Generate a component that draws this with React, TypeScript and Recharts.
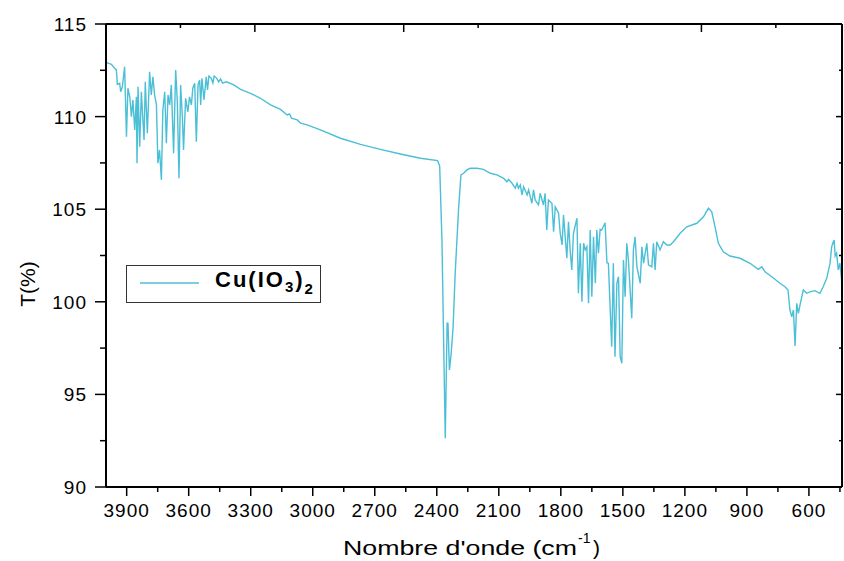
import { Legend, Line, LineChart, ReferenceLine, XAxis, YAxis } from "recharts";

// IR spectrum of Cu(IO3)2
const wavenumbers = [
  4000, 3974, 3958, 3950, 3945, 3934, 3929, 3921, 3910, 3901,
  3894, 3885, 3877, 3870, 3861, 3853, 3850, 3845, 3837, 3829,
  3821, 3816, 3810, 3800, 3789, 3781, 3773, 3765, 3756, 3749,
  3741, 3732, 3725, 3716, 3708, 3700, 3692, 3684, 3673, 3663,
  3655, 3647, 3639, 3631, 3625, 3615, 3604, 3596, 3587, 3580,
  3571, 3563, 3555, 3547, 3542, 3536, 3526, 3515, 3509, 3502,
  3491, 3483, 3477, 3465, 3455, 3446, 3436, 3417, 3382, 3349,
  3301, 3253, 3204, 3156, 3124, 3112, 3103, 3075, 3059, 3027,
  2963, 2866, 2769, 2673, 2576, 2479, 2396, 2386, 2375, 2367,
  2359, 2350, 2346, 2339, 2331, 2321, 2311, 2294, 2283, 2270,
  2254, 2238, 2206, 2174, 2141, 2109, 2077, 2061, 2053, 2036,
  2020, 2012, 2005, 1996, 1988, 1980, 1963, 1956, 1940, 1932,
  1924, 1908, 1900, 1884, 1876, 1868, 1860, 1843, 1835, 1827,
  1811, 1803, 1794, 1787, 1771, 1763, 1755, 1747, 1739, 1722,
  1715, 1706, 1698, 1690, 1682, 1674, 1666, 1658, 1650, 1642,
  1633, 1626, 1618, 1610, 1602, 1586, 1577, 1570, 1554, 1546,
  1538, 1529, 1521, 1513, 1505, 1497, 1489, 1481, 1473, 1457,
  1449, 1441, 1432, 1416, 1408, 1400, 1384, 1376, 1360, 1352,
  1344, 1336, 1320, 1304, 1287, 1271, 1255, 1223, 1191, 1142,
  1110, 1086, 1070, 1054, 1038, 1014, 982, 933, 885, 845,
  828, 812, 780, 740, 716, 701, 692, 683, 675, 667,
  659, 651, 643, 627, 611, 595, 571, 547, 531, 514,
  498, 490, 482, 478, 473, 466, 458, 450, 442, 440,
];

const transmittance = [
  112.93, 112.82, 112.61, 112.52, 111.74, 111.8, 111.34, 111.6, 112.69, 108.91,
  111.53, 111.07, 110.0, 110.9, 109.28, 111.07, 107.48, 111.61, 108.37, 111.34,
  109.72, 108.74, 111.88, 109.1, 112.42, 111.17, 112.15, 111.17, 110.63, 107.48,
  108.2, 106.58, 110.36, 111.34, 108.56, 111.17, 110.63, 111.71, 108.02, 112.52,
  110.8, 106.67, 111.71, 110.09, 108.2, 110.99, 110.26, 111.07, 110.63, 111.53,
  111.8, 108.64, 111.71, 111.98, 110.63, 112.07, 110.9, 112.15, 111.44, 112.19,
  112.07, 111.81, 112.19, 112.08, 111.87, 112.03, 111.81, 111.88, 111.71, 111.47,
  111.26, 110.99, 110.63, 110.39, 110.09, 110.14, 109.92, 109.82, 109.65, 109.55,
  109.28, 108.83, 108.5, 108.23, 107.98, 107.75, 107.62, 107.33, 103.34, 97.94,
  92.63, 98.84, 98.84, 96.32, 97.13, 98.65, 101.54, 105.13, 106.85, 106.94,
  107.12, 107.21, 107.21, 107.15, 106.94, 106.85, 106.67, 106.48, 106.61, 106.4,
  106.13, 106.4, 106.13, 106.31, 105.77, 106.21, 105.77, 106.04, 105.32, 106.04,
  105.5, 105.23, 105.86, 105.23, 105.86, 103.88, 105.5, 105.32, 103.78, 105.13,
  104.78, 103.7, 103.07, 104.69, 102.35, 104.32, 102.8, 101.72, 103.7, 104.51,
  100.46, 103.16, 100.0, 103.16, 102.8, 102.97, 99.92, 103.88, 100.27, 103.51,
  101.0, 103.88, 102.62, 103.91, 103.88, 104.27, 102.11, 102.08, 97.57, 102.08,
  97.03, 101.0, 101.35, 97.03, 96.68, 102.26, 100.27, 103.16, 102.26, 99.11,
  102.8, 103.51, 101.89, 101.0, 102.97, 102.08, 103.16, 101.99, 101.89, 103.16,
  101.72, 103.24, 102.8, 103.24, 103.07, 103.07, 103.24, 103.7, 104.05, 104.24,
  104.59, 105.05, 104.86, 104.05, 103.16, 102.7, 102.47, 102.35, 102.08, 101.75,
  101.89, 101.62, 101.35, 101.0, 100.81, 100.64, 99.56, 99.19, 99.56, 97.61,
  99.92, 99.38, 99.83, 100.64, 100.46, 100.54, 100.6, 100.46, 100.81, 101.27,
  102.08, 102.97, 103.24, 103.34, 102.47, 102.62, 101.72, 102.08, 101.18, 100.1,
];

const xTicks = [
  3900, 3750, 3600, 3450, 3300, 3150, 3000, 2850, 2700, 2550, 2400, 2250,
  2100, 1950, 1800, 1650, 1500, 1350, 1200, 1050, 900, 750, 600, 450,
];
const xLabels = [3900, 3600, 3300, 3000, 2700, 2400, 2100, 1800, 1500, 1200, 900, 600];
const yTicks = [90, 92.5, 95, 97.5, 100, 102.5, 105, 107.5, 110, 112.5, 115];
const yLabels = [90, 95, 100, 105, 110, 115];
// the top frame edge has its own unlabelled tick spacing
const topTicks = [4000, 3640, 3280, 2920, 2560, 2200, 1840, 1480, 1120, 760];
const topMajors = [4000, 3280, 2560, 1840, 1120];

const X_DOMAIN = [440, 4000];
const Y_DOMAIN = [90, 115];

const FONT = "'Liberation Sans', Arial, Helvetica, sans-serif";
const LINE_COLOR = "#4bbfd6";
const CHART_W = 844;
const CHART_H = 561;
const MARGIN = { top: 20, right: 1, bottom: 4, left: 6 };
const TOP_AXIS_H = 4;
const RIGHT_AXIS_W = 1;
const LEFT_AXIS_W = 100;
const BOTTOM_AXIS_H = 70;
const PLOT_W = CHART_W - MARGIN.left - MARGIN.right - LEFT_AXIS_W - RIGHT_AXIS_W;
const PLOT_H = CHART_H - MARGIN.top - MARGIN.bottom - TOP_AXIS_H - BOTTOM_AXIS_H;
// data units per pixel, used to size the inward frame ticks
const WN_PER_PX = (X_DOMAIN[1] - X_DOMAIN[0]) / PLOT_W;
const T_PER_PX = (Y_DOMAIN[1] - Y_DOMAIN[0]) / PLOT_H;

const data = wavenumbers.map((wn, i) => ({ wn, t: transmittance[i] }));

const BottomTick = ({ x, y, payload }: any) => {
  const major = xLabels.includes(payload.value);
  return (
    <g>
      <line x1={x} y1={y} x2={x} y2={y + (major ? 9 : 5)} stroke="#000" strokeWidth={1.5} />
      {major && (
        <text x={x} y={y + 30} textAnchor="middle" fontSize={19} letterSpacing={1}
          fontFamily={FONT} fill="#000">
          {payload.value}
        </text>
      )}
    </g>
  );
};

const LeftTick = ({ x, y, payload }: any) => {
  const major = yLabels.includes(payload.value);
  return (
    <g>
      <line x1={x} y1={y} x2={x - (major ? 11 : 6)} y2={y} stroke="#000" strokeWidth={1.5} />
      {major && (
        <text x={x - 19} y={y + 7} textAnchor="end" fontSize={19} letterSpacing={1}
          fontFamily={FONT} fill="#000">
          {payload.value}
        </text>
      )}
    </g>
  );
};

const XTitle = () => (
  <g fontFamily={FONT} fill="#000">
    <text x={343} y={555} fontSize={21} textLength={234} lengthAdjust="spacingAndGlyphs">
      Nombre d'onde (cm
    </text>
    <text x={578} y={543} fontSize={14}>-1</text>
    <text x={593} y={555} fontSize={21}>)</text>
  </g>
);

const YTitle = () => (
  <text x={0} y={0} transform="translate(35,284) rotate(-90)" textAnchor="middle"
    fontSize={21} fontFamily={FONT} fill="#000">
    T(%)
  </text>
);

const LegendBox = () => (
  <div style={{
    width: 195, height: 38, border: "1px solid #333", boxSizing: "border-box",
    background: "#fff", display: "flex", alignItems: "center", fontFamily: FONT,
  }}>
    <svg width={88} height={36}>
      <line x1={13} y1={17} x2={72} y2={17} stroke={LINE_COLOR} strokeWidth={1.5} />
    </svg>
    <span style={{
      fontSize: 22, fontWeight: "bold", color: "#000", lineHeight: "22px", letterSpacing: 2,
    }}>
      Cu(IO<sub style={{ fontSize: 15, verticalAlign: -5 }}>3</sub>)
      <sub style={{ fontSize: 15, verticalAlign: -7 }}>2</sub>
    </span>
  </div>
);

export default function App() {
  return (
    <div style={{ position: "absolute", left: 0, top: 0, background: "#fff" }}>
      <LineChart width={CHART_W} height={CHART_H} data={data} margin={MARGIN}>
        <XAxis xAxisId="bottom" dataKey="wn" type="number" domain={X_DOMAIN} reversed
          allowDataOverflow ticks={xTicks} interval={0} height={BOTTOM_AXIS_H}
          tickSize={0} tickMargin={0} tick={<BottomTick />} tickLine={false}
          axisLine={{ stroke: "#000", strokeWidth: 2 }} label={<XTitle />} />
        <XAxis xAxisId="top" orientation="top" height={TOP_AXIS_H} tick={false}
          tickLine={false} axisLine={{ stroke: "#000", strokeWidth: 2 }} />
        <YAxis yAxisId="left" type="number" domain={Y_DOMAIN} allowDataOverflow ticks={yTicks}
          interval={0} width={LEFT_AXIS_W} tickSize={0} tickMargin={0} tick={<LeftTick />}
          tickLine={false} axisLine={{ stroke: "#000", strokeWidth: 2 }} label={<YTitle />} />
        <YAxis yAxisId="right" orientation="right" width={RIGHT_AXIS_W} tick={false}
          tickLine={false} axisLine={{ stroke: "#000", strokeWidth: 2 }} />

        {/* inward ticks on the top frame edge */}
        {topTicks.map((v) => (
          <ReferenceLine key={`top-${v}`} xAxisId="bottom" yAxisId="left"
            segment={[
              { x: v, y: Y_DOMAIN[1] },
              { x: v, y: Y_DOMAIN[1] - (topMajors.includes(v) ? 8 : 4) * T_PER_PX },
            ]}
            stroke="#000" strokeWidth={1.5} ifOverflow="visible" />
        ))}
        {/* inward ticks on the right frame edge */}
        {yTicks.map((v) => (
          <ReferenceLine key={`right-${v}`} xAxisId="bottom" yAxisId="left"
            segment={[
              { x: X_DOMAIN[0], y: v },
              { x: X_DOMAIN[0] + (yLabels.includes(v) ? 6 : 3) * WN_PER_PX, y: v },
            ]}
            stroke="#000" strokeWidth={1.5} ifOverflow="visible" />
        ))}

        <Legend layout="horizontal" verticalAlign="middle" align="center"
          wrapperStyle={{ left: 126, top: 265, width: 195, height: 38 }}
          content={<LegendBox />} />
        <Line xAxisId="bottom" yAxisId="left" type="linear" dataKey="t" name="Cu(IO3)2"
          stroke={LINE_COLOR} strokeWidth={1.4} dot={false} activeDot={false}
          isAnimationActive={false} />
      </LineChart>
    </div>
  );
}
